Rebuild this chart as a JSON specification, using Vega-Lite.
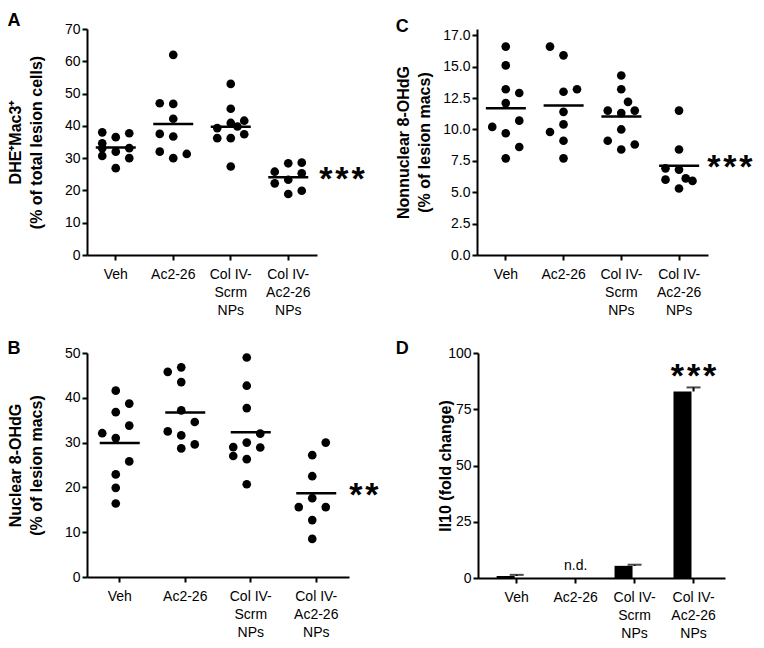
{
  "$schema": "https://vega.github.io/schema/vega-lite/v6.json",
  "background": "white",
  "padding": {"left": 7, "top": 12, "right": 0, "bottom": 0},
  "config": {
    "font": "Liberation Sans",
    "view": {"stroke": null},
    "axis": {"domainColor": "black", "domainWidth": 2, "tickColor": "black", "tickWidth": 2, "tickSize": 5, "labelColor": "black", "labelFontSize": 14, "labelFont": "Liberation Sans", "titleFont": "Liberation Sans", "titleFontSize": 16, "titleFontWeight": "bold", "titleColor": "black", "grid": false, "labelOverlap": false},
    "axisY": {"labelPadding": 2, "titlePadding": 10, "titleLineHeight": 21},
    "axisX": {"labelPadding": 7, "labelAngle": 0, "labelLineHeight": 18, "title": null, "labelExpr": "datum.label == 'Col IV-Scrm NPs' ? ['Col IV-','Scrm','NPs'] : datum.label == 'Col IV-Ac2-26 NPs' ? ['Col IV-','Ac2-26','NPs'] : datum.label"},
    "title": {"fontSize": 18, "fontWeight": "bold", "anchor": "start", "frame": "bounds", "color": "black", "offset": 0}
  },
  "datasets": {
    "A": [
      {"group": "Veh", "value": 38.0, "slot": -2}, {"group": "Veh", "value": 34.6, "slot": -2}, {"group": "Veh", "value": 33.1, "slot": -2}, {"group": "Veh", "value": 30.7, "slot": -2},
      {"group": "Veh", "value": 36.5, "slot": 0}, {"group": "Veh", "value": 32.0, "slot": 0}, {"group": "Veh", "value": 26.9, "slot": 0},
      {"group": "Veh", "value": 37.7, "slot": 2}, {"group": "Veh", "value": 33.1, "slot": 2}, {"group": "Veh", "value": 30.0, "slot": 2},
      {"group": "Ac2-26", "value": 62.0, "slot": 0}, {"group": "Ac2-26", "value": 47.0, "slot": -2}, {"group": "Ac2-26", "value": 46.8, "slot": 0}, {"group": "Ac2-26", "value": 42.2, "slot": 0}, {"group": "Ac2-26", "value": 37.5, "slot": -2}, {"group": "Ac2-26", "value": 36.7, "slot": 0}, {"group": "Ac2-26", "value": 32.0, "slot": -2}, {"group": "Ac2-26", "value": 31.3, "slot": 2}, {"group": "Ac2-26", "value": 30.0, "slot": 0},
      {"group": "Col IV-Scrm NPs", "value": 53.0, "slot": 0}, {"group": "Col IV-Scrm NPs", "value": 45.3, "slot": 0}, {"group": "Col IV-Scrm NPs", "value": 41.6, "slot": 2}, {"group": "Col IV-Scrm NPs", "value": 40.9, "slot": 0}, {"group": "Col IV-Scrm NPs", "value": 39.8, "slot": 1}, {"group": "Col IV-Scrm NPs", "value": 39.3, "slot": -2}, {"group": "Col IV-Scrm NPs", "value": 37.4, "slot": 2}, {"group": "Col IV-Scrm NPs", "value": 36.2, "slot": -2}, {"group": "Col IV-Scrm NPs", "value": 36.2, "slot": 0}, {"group": "Col IV-Scrm NPs", "value": 27.4, "slot": 0},
      {"group": "Col IV-Ac2-26 NPs", "value": 28.4, "slot": 0}, {"group": "Col IV-Ac2-26 NPs", "value": 28.6, "slot": 2}, {"group": "Col IV-Ac2-26 NPs", "value": 25.8, "slot": -2}, {"group": "Col IV-Ac2-26 NPs", "value": 25.3, "slot": 2}, {"group": "Col IV-Ac2-26 NPs", "value": 23.3, "slot": 0}, {"group": "Col IV-Ac2-26 NPs", "value": 22.2, "slot": -2}, {"group": "Col IV-Ac2-26 NPs", "value": 18.9, "slot": 0}, {"group": "Col IV-Ac2-26 NPs", "value": 19.9, "slot": 2}
    ],
    "B": [
      {"group": "Veh", "value": 41.6, "slot": 0}, {"group": "Veh", "value": 38.7, "slot": 2}, {"group": "Veh", "value": 36.8, "slot": 0}, {"group": "Veh", "value": 33.8, "slot": 2}, {"group": "Veh", "value": 32.1, "slot": -2}, {"group": "Veh", "value": 31.0, "slot": 0}, {"group": "Veh", "value": 25.8, "slot": 2}, {"group": "Veh", "value": 22.9, "slot": 0}, {"group": "Veh", "value": 19.9, "slot": 0}, {"group": "Veh", "value": 16.4, "slot": 0},
      {"group": "Ac2-26", "value": 45.8, "slot": -2}, {"group": "Ac2-26", "value": 46.8, "slot": 0}, {"group": "Ac2-26", "value": 43.5, "slot": 0}, {"group": "Ac2-26", "value": 37.2, "slot": 0}, {"group": "Ac2-26", "value": 34.6, "slot": 2}, {"group": "Ac2-26", "value": 32.5, "slot": -2}, {"group": "Ac2-26", "value": 31.6, "slot": 0}, {"group": "Ac2-26", "value": 28.7, "slot": 0}, {"group": "Ac2-26", "value": 29.6, "slot": 2},
      {"group": "Col IV-Scrm NPs", "value": 49.0, "slot": 0}, {"group": "Col IV-Scrm NPs", "value": 42.7, "slot": 0}, {"group": "Col IV-Scrm NPs", "value": 37.7, "slot": 0}, {"group": "Col IV-Scrm NPs", "value": 32.0, "slot": 2}, {"group": "Col IV-Scrm NPs", "value": 30.0, "slot": 0}, {"group": "Col IV-Scrm NPs", "value": 29.0, "slot": -2}, {"group": "Col IV-Scrm NPs", "value": 28.9, "slot": 2}, {"group": "Col IV-Scrm NPs", "value": 27.0, "slot": -2}, {"group": "Col IV-Scrm NPs", "value": 26.3, "slot": 0}, {"group": "Col IV-Scrm NPs", "value": 20.7, "slot": 0},
      {"group": "Col IV-Ac2-26 NPs", "value": 30.0, "slot": 2}, {"group": "Col IV-Ac2-26 NPs", "value": 27.2, "slot": 0}, {"group": "Col IV-Ac2-26 NPs", "value": 22.5, "slot": 0}, {"group": "Col IV-Ac2-26 NPs", "value": 17.6, "slot": 0}, {"group": "Col IV-Ac2-26 NPs", "value": 15.6, "slot": -2}, {"group": "Col IV-Ac2-26 NPs", "value": 15.6, "slot": 2}, {"group": "Col IV-Ac2-26 NPs", "value": 12.7, "slot": 0}, {"group": "Col IV-Ac2-26 NPs", "value": 8.5, "slot": 0}
    ],
    "C": [
      {"group": "Veh", "value": 16.6, "slot": 0}, {"group": "Veh", "value": 15.1, "slot": 0}, {"group": "Veh", "value": 13.2, "slot": 0}, {"group": "Veh", "value": 12.9, "slot": 2}, {"group": "Veh", "value": 12.1, "slot": 0}, {"group": "Veh", "value": 10.7, "slot": 2}, {"group": "Veh", "value": 10.2, "slot": -2}, {"group": "Veh", "value": 9.7, "slot": 0}, {"group": "Veh", "value": 8.6, "slot": 2}, {"group": "Veh", "value": 7.7, "slot": 0},
      {"group": "Ac2-26", "value": 16.6, "slot": -2}, {"group": "Ac2-26", "value": 15.9, "slot": 0}, {"group": "Ac2-26", "value": 13.0, "slot": 0}, {"group": "Ac2-26", "value": 13.2, "slot": 2}, {"group": "Ac2-26", "value": 11.4, "slot": 0}, {"group": "Ac2-26", "value": 10.4, "slot": 0}, {"group": "Ac2-26", "value": 9.8, "slot": -2}, {"group": "Ac2-26", "value": 9.1, "slot": 0}, {"group": "Ac2-26", "value": 7.7, "slot": 0},
      {"group": "Col IV-Scrm NPs", "value": 14.3, "slot": 0}, {"group": "Col IV-Scrm NPs", "value": 13.2, "slot": 0}, {"group": "Col IV-Scrm NPs", "value": 12.2, "slot": 1}, {"group": "Col IV-Scrm NPs", "value": 11.5, "slot": -2}, {"group": "Col IV-Scrm NPs", "value": 11.3, "slot": 0}, {"group": "Col IV-Scrm NPs", "value": 11.5, "slot": 2}, {"group": "Col IV-Scrm NPs", "value": 10.0, "slot": 0}, {"group": "Col IV-Scrm NPs", "value": 9.1, "slot": -2}, {"group": "Col IV-Scrm NPs", "value": 8.8, "slot": 2}, {"group": "Col IV-Scrm NPs", "value": 8.4, "slot": 0},
      {"group": "Col IV-Ac2-26 NPs", "value": 11.5, "slot": 0}, {"group": "Col IV-Ac2-26 NPs", "value": 8.4, "slot": 0}, {"group": "Col IV-Ac2-26 NPs", "value": 6.9, "slot": -2}, {"group": "Col IV-Ac2-26 NPs", "value": 6.8, "slot": 0}, {"group": "Col IV-Ac2-26 NPs", "value": 6.0, "slot": -2}, {"group": "Col IV-Ac2-26 NPs", "value": 6.1, "slot": 1}, {"group": "Col IV-Ac2-26 NPs", "value": 5.9, "slot": 2}, {"group": "Col IV-Ac2-26 NPs", "value": 5.3, "slot": 0}
    ],
    "D": [
      {"group": "Veh", "value": 0.9, "upper": 1.4, "note": ""},
      {"group": "Ac2-26", "value": 0, "upper": 0, "note": "n.d."},
      {"group": "Col IV-Scrm NPs", "value": 5.4, "upper": 5.9, "note": ""},
      {"group": "Col IV-Ac2-26 NPs", "value": 82.9, "upper": 84.7, "note": "*\u200a*\u200a*"}
    ]
  },
  "align": "none",
  "vconcat": [
    {
      "hconcat": [
        {
          "title": {"text": "A", "offset": -8},
          "width": 230, "height": 226,
          "data": {"name": "A"},
          "encoding": {"x": {"field": "group", "type": "nominal", "sort": ["Veh", "Ac2-26", "Col IV-Scrm NPs", "Col IV-Ac2-26 NPs"], "scale": {"paddingInner": 0, "paddingOuter": 0}}},
          "layer": [
            {"mark": {"type": "circle", "size": 75, "opacity": 1, "color": "black"},
             "encoding": {"y": {"field": "value", "type": "quantitative", "scale": {"domain": [0, 70]}, "axis": {"values": [0, 10, 20, 30, 40, 50, 60, 70], "titlePadding": 20, "title": ["DHE⁺Mac3⁺", "(% of total lesion cells)"]}},
                          "xOffset": {"field": "slot", "type": "quantitative", "scale": {"domain": [-2, 2], "range": [15.25, 42.25]}}}},
            {"mark": {"type": "tick", "size": 40, "thickness": 2.5, "color": "black"},
             "encoding": {"y": {"aggregate": "mean", "field": "value", "type": "quantitative", "axis": {"values": [0, 10, 20, 30, 40, 50, 60, 70], "titlePadding": 20, "title": ["DHE⁺Mac3⁺", "(% of total lesion cells)"]}}}},
            {"transform": [{"filter": "datum.group == 'Col IV-Ac2-26 NPs'"}, {"aggregate": [{"op": "mean", "field": "value", "as": "value"}], "groupby": ["group"]}],
             "mark": {"type": "text", "text": "*\u200a*\u200a*", "align": "left", "baseline": "alphabetic", "dx": 31, "dy": 13, "fontSize": 34, "fontWeight": "bold", "color": "black"},
             "encoding": {"y": {"field": "value", "type": "quantitative", "axis": {"values": [0, 10, 20, 30, 40, 50, 60, 70], "titlePadding": 20, "title": ["DHE⁺Mac3⁺", "(% of total lesion cells)"]}}}}
          ]
        },
        {
          "title": {"text": "C", "offset": -8},
          "width": 231, "height": 226,
          "data": {"name": "C"},
          "encoding": {"x": {"field": "group", "type": "nominal", "sort": ["Veh", "Ac2-26", "Col IV-Scrm NPs", "Col IV-Ac2-26 NPs"], "scale": {"paddingInner": 0, "paddingOuter": 0}}},
          "layer": [
            {"mark": {"type": "circle", "size": 75, "opacity": 1, "color": "black"},
             "encoding": {"y": {"field": "value", "type": "quantitative", "scale": {"domain": [0, 17.5]}, "axis": {"values": [0, 2.5, 5, 7.5, 10, 12.5, 15, 17.5], "labelExpr": "datum.value == 17.5 ? '17.0' : format(datum.value, '.1f')", "title": ["Nonnuclear 8-OHdG", "(% of lesion macs)"]}},
                          "xOffset": {"field": "slot", "type": "quantitative", "scale": {"domain": [-2, 2], "range": [15.4, 42.4]}}}},
            {"mark": {"type": "tick", "size": 40, "thickness": 2.5, "color": "black"},
             "encoding": {"y": {"aggregate": "mean", "field": "value", "type": "quantitative", "axis": {"values": [0, 2.5, 5, 7.5, 10, 12.5, 15, 17.5], "labelExpr": "datum.value == 17.5 ? '17.0' : format(datum.value, '.1f')", "title": ["Nonnuclear 8-OHdG", "(% of lesion macs)"]}}}},
            {"transform": [{"filter": "datum.group == 'Col IV-Ac2-26 NPs'"}, {"aggregate": [{"op": "mean", "field": "value", "as": "value"}], "groupby": ["group"]}],
             "mark": {"type": "text", "text": "*\u200a*\u200a*", "align": "left", "baseline": "alphabetic", "dx": 28, "dy": 12, "fontSize": 34, "fontWeight": "bold", "color": "black"},
             "encoding": {"y": {"field": "value", "type": "quantitative", "axis": {"values": [0, 2.5, 5, 7.5, 10, 12.5, 15, 17.5], "labelExpr": "datum.value == 17.5 ? '17.0' : format(datum.value, '.1f')", "title": ["Nonnuclear 8-OHdG", "(% of lesion macs)"]}}}}
          ]
        }
      ],
      "spacing": 30
    },
    {
      "hconcat": [
        {
          "title": {"text": "B", "offset": -12},
          "width": 262, "height": 224,
          "data": {"name": "B"},
          "encoding": {"x": {"field": "group", "type": "nominal", "sort": ["Veh", "Ac2-26", "Col IV-Scrm NPs", "Col IV-Ac2-26 NPs"], "scale": {"paddingInner": 0, "paddingOuter": 0}}},
          "layer": [
            {"mark": {"type": "circle", "size": 75, "opacity": 1, "color": "black"},
             "encoding": {"y": {"field": "value", "type": "quantitative", "scale": {"domain": [0, 50]}, "axis": {"values": [0, 10, 20, 30, 40, 50], "titlePadding": 20, "title": ["Nuclear 8-OHdG", "(% of lesion macs)"]}},
                          "xOffset": {"field": "slot", "type": "quantitative", "scale": {"domain": [-2, 2], "range": [19.25, 46.25]}}}},
            {"mark": {"type": "tick", "size": 40, "thickness": 2.5, "color": "black"},
             "encoding": {"y": {"aggregate": "mean", "field": "value", "type": "quantitative", "axis": {"values": [0, 10, 20, 30, 40, 50], "titlePadding": 20, "title": ["Nuclear 8-OHdG", "(% of lesion macs)"]}}}},
            {"transform": [{"filter": "datum.group == 'Col IV-Ac2-26 NPs'"}, {"aggregate": [{"op": "mean", "field": "value", "as": "value"}], "groupby": ["group"]}],
             "mark": {"type": "text", "text": "*\u200a*", "align": "left", "baseline": "alphabetic", "dx": 33, "dy": 13, "fontSize": 34, "fontWeight": "bold", "color": "black"},
             "encoding": {"y": {"field": "value", "type": "quantitative", "axis": {"values": [0, 10, 20, 30, 40, 50], "titlePadding": 20, "title": ["Nuclear 8-OHdG", "(% of lesion macs)"]}}}}
          ]
        },
        {
          "title": {"text": "D", "dx": -42, "offset": -12},
          "width": 247, "height": 225,
          "data": {"name": "D"},
          "encoding": {"x": {"field": "group", "type": "nominal", "sort": ["Veh", "Ac2-26", "Col IV-Scrm NPs", "Col IV-Ac2-26 NPs"], "scale": {"paddingInner": 0.32, "paddingOuter": 0.255, "align": 0.62}}},
          "layer": [
            {"mark": {"type": "bar", "color": "black"},
             "encoding": {"y": {"field": "value", "type": "quantitative", "scale": {"domain": [0, 100]}, "axis": {"values": [0, 25, 50, 75, 100], "titlePadding": -6, "title": "Il10 (fold change)"}}}},
            {"mark": {"type": "rule", "color": "black", "strokeWidth": 2},
             "encoding": {"y": {"field": "value", "type": "quantitative", "axis": {"values": [0, 25, 50, 75, 100], "titlePadding": -6, "title": "Il10 (fold change)"}}, "y2": {"field": "upper"}}},
            {"mark": {"type": "tick", "size": 14, "thickness": 2, "color": "black"},
             "transform": [{"filter": "datum.upper > 0"}],
             "encoding": {"y": {"field": "upper", "type": "quantitative", "axis": {"values": [0, 25, 50, 75, 100], "titlePadding": -6, "title": "Il10 (fold change)"}}}},
            {"transform": [{"filter": "datum.note == 'n.d.'"}],
             "mark": {"type": "text", "align": "center", "baseline": "alphabetic", "dy": -8, "fontSize": 14, "color": "black"},
             "encoding": {"y": {"field": "value", "type": "quantitative", "axis": {"values": [0, 25, 50, 75, 100], "titlePadding": -6, "title": "Il10 (fold change)"}}, "text": {"field": "note"}}},
            {"transform": [{"filter": "datum.note != 'n.d.' && datum.note != ''"}],
             "mark": {"type": "text", "align": "center", "baseline": "alphabetic", "dy": 0, "fontSize": 34, "fontWeight": "bold", "color": "black"},
             "encoding": {"y": {"field": "upper", "type": "quantitative", "axis": {"values": [0, 25, 50, 75, 100], "titlePadding": -6, "title": "Il10 (fold change)"}}, "text": {"field": "note"}}}
          ]
        }
      ],
      "spacing": 16
    }
  ],
  "spacing": 23
}
